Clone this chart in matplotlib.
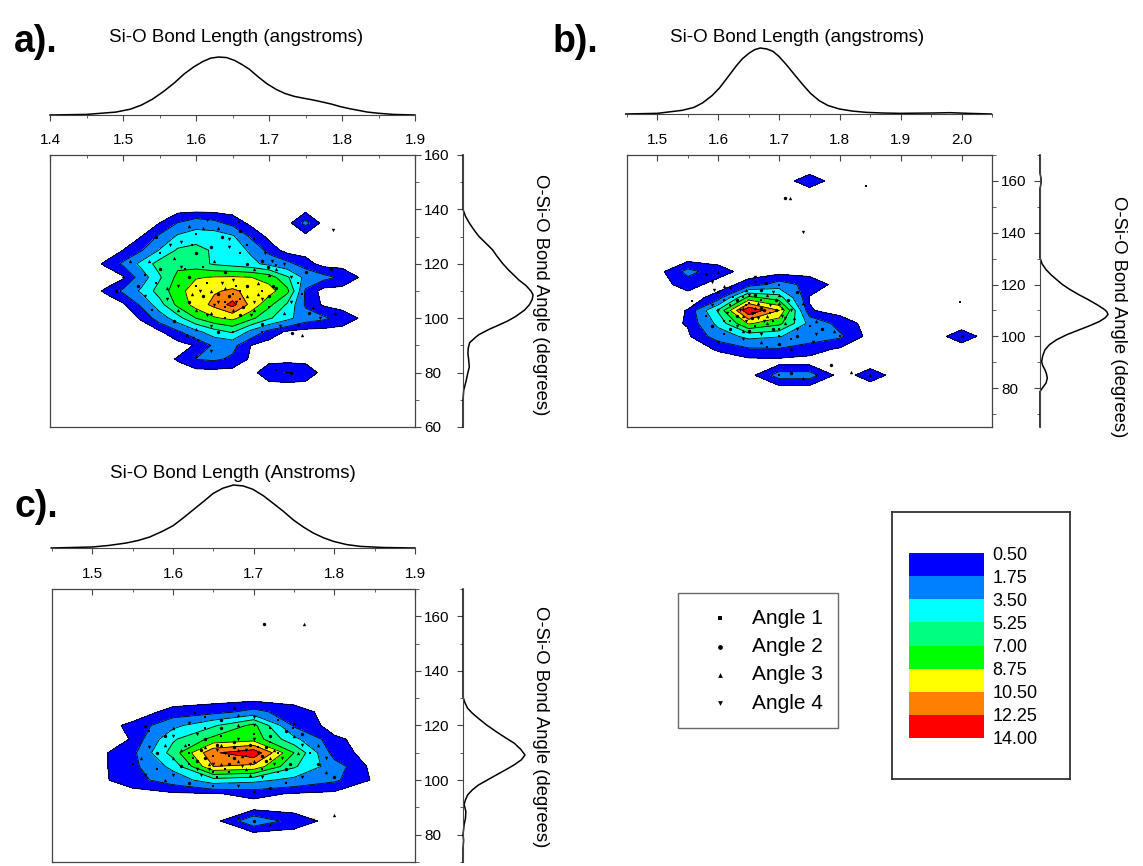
import numpy as np
import matplotlib
matplotlib.use("Agg")
import matplotlib.pyplot as plt
from matplotlib.ticker import MultipleLocator, FormatStrFormatter

plt.rcParams["font.family"] = ["Liberation Sans", "DejaVu Sans"]

W, H = 1143, 866

# ---- shared legend / colour scale ----
levels = [0.5, 1.75, 3.5, 5.25, 7.0, 8.75, 10.5, 12.25, 14.0]
level_colors = ["#0000ff", "#0080ff", "#00ffff", "#00ff80",
                "#00ff00", "#ffff00", "#ff8000", "#ff0000"]
angle_labels = ["Angle 1", "Angle 2", "Angle 3", "Angle 4"]
angle_markers = ["s", "o", "^", "v"]
angle_sizes = [3.5, 6, 6, 6]
y_label = "O-Si-O Bond Angle (degrees)"

# ---- panel a ----
a_title = "Si-O Bond Length (angstroms)"
a_grid_x = [1.45, 1.475, 1.5, 1.525, 1.55, 1.575, 1.6, 1.625, 1.65,
            1.675, 1.7, 1.725, 1.75, 1.775, 1.8, 1.825, 1.85]
a_grid_y = [145, 140, 135, 130, 125, 120, 115, 110, 105, 100, 95, 90, 85, 80, 75]
a_counts = [
    [0, 0, 0, 0, 0, 0, 0, 0, 0, 0, 0, 0, 0, 0, 0, 0, 0],
    [0, 0, 0, 0, 0, 0, 0, 0, 0, 0, 0, 0, 0, 0, 0, 0, 0],
    [0, 0, 0, 0, 0.5, 1.8, 2.6, 2.2, 1.2, 0.2, 0, 0, 2.2, 0, 0, 0, 0],
    [0, 0, 0, 0.5, 2.0, 3.8, 4.5, 4.5, 3.8, 1.5, 0.2, 0, 0, 0, 0, 0, 0],
    [0, 0, 0.5, 1.6, 3.6, 5.5, 5.8, 5.0, 4.5, 3.2, 1.2, 0, 0, 0, 0, 0, 0],
    [0, 0.6, 2.0, 4.0, 6.0, 6.5, 6.0, 5.0, 4.5, 4.0, 3.0, 2.2, 1.0, 0, 0, 0, 0],
    [0, 0, 0.3, 2.5, 5.0, 7.5, 8.6, 8.9, 9.0, 8.8, 8.0, 5.5, 3.0, 2.2, 1.5, 0.4, 0],
    [0, 0.6, 2.0, 3.8, 6.0, 8.0, 9.8, 10.3, 10.8, 10.0, 9.5, 7.5, 1.5, 0, 0, 0, 0],
    [0, 0, 0.3, 2.0, 4.5, 7.5, 9.5, 11.0, 12.8, 10.0, 7.5, 5.0, 1.5, 0.3, 0, 0, 0],
    [0, 0, 0, 0.6, 2.5, 4.5, 7.0, 8.5, 9.2, 7.5, 5.5, 4.0, 2.5, 2.0, 1.2, 0.4, 0],
    [0, 0, 0, 0, 0.3, 1.5, 3.0, 4.5, 5.5, 3.0, 1.2, 0.3, 0, 0, 0, 0, 0],
    [0, 0, 0, 0, 0, 0, 0.6, 2.0, 2.2, 0.5, 0, 0, 0, 0, 0, 0, 0],
    [0, 0, 0, 0, 0, 0.6, 1.8, 2.0, 1.5, 0.3, 0, 0, 0, 0, 0, 0, 0],
    [0, 0, 0, 0, 0, 0, 0, 0, 0, 0, 1.4, 1.8, 1.4, 0, 0, 0, 0],
    [0, 0, 0, 0, 0, 0, 0, 0, 0, 0, 0, 0, 0, 0, 0, 0, 0],
]
a_points = [
    (1.60, 112), (1.61, 108), (1.62, 110), (1.63, 106), (1.64, 104), (1.645, 108),
    (1.65, 103), (1.655, 106), (1.66, 110), (1.665, 104), (1.67, 108), (1.68, 106),
    (1.69, 110), (1.70, 108), (1.62, 102), (1.635, 113), (1.655, 112), (1.59, 106),
    (1.60, 103), (1.675, 101), (1.64, 100), (1.71, 111), (1.685, 113), (1.625, 105),
    (1.65, 109), (1.55, 118), (1.57, 122), (1.58, 128), (1.60, 131), (1.62, 126),
    (1.63, 133), (1.645, 129), (1.66, 124), (1.67, 120), (1.68, 118), (1.695, 124),
    (1.61, 119), (1.59, 115), (1.56, 111), (1.53, 108), (1.54, 103), (1.57, 99),
    (1.60, 96), (1.62, 97), (1.65, 95), (1.69, 98), (1.72, 102), (1.73, 106),
    (1.74, 113), (1.75, 117), (1.76, 104), (1.58, 119), (1.55, 124), (1.64, 117),
    (1.70, 116), (1.72, 120), (1.53, 116), (1.66, 132), (1.59, 134), (1.615, 136),
    (1.68, 129), (1.785, 118), (1.79, 102), (1.77, 100), (1.659, 135.4), (1.545, 129.7),
    (1.50, 115.4), (1.704, 120.9), (1.71, 119.7), (1.699, 119.0), (1.587, 93.8),
    (1.596, 92.6), (1.603, 92.0), (1.731, 94.4), (1.745, 93.8), (1.788, 132.4),
    (1.71, 81), (1.73, 80), (1.60, 86), (1.62, 88), (1.64, 85), (1.49, 110), (1.51, 121),
    (1.605, 110), (1.615, 113), (1.63, 109), (1.64, 111), (1.65, 114), (1.66, 107),
    (1.67, 112), (1.68, 103), (1.69, 107), (1.70, 104), (1.705, 112), (1.595, 109),
    (1.615, 101), (1.64, 106), (1.66, 101), (1.685, 109), (1.575, 112), (1.585, 118),
    (1.60, 124), (1.625, 121), (1.645, 126), (1.67, 127), (1.69, 121), (1.71, 118),
    (1.73, 115), (1.745, 109), (1.755, 102), (1.74, 98), (1.715, 97), (1.69, 95),
    (1.63, 95), (1.575, 103), (1.56, 107), (1.545, 113), (1.52, 112), (1.535, 121),
    (1.565, 127), (1.595, 127), (1.635, 130), (1.61, 133),
]
a_len_x = [1.40, 1.45, 1.49, 1.51, 1.525, 1.54, 1.555, 1.57, 1.584, 1.597, 1.609,
           1.62, 1.631, 1.642, 1.653, 1.663, 1.673, 1.685, 1.697, 1.71, 1.722,
           1.735, 1.747, 1.76, 1.771, 1.785, 1.796, 1.81, 1.82, 1.835, 1.85, 1.87, 1.90]
a_len_d = [0.0, 0.01, 0.05, 0.10, 0.17, 0.27, 0.40, 0.55, 0.71, 0.83, 0.92,
           0.98, 1.0, 0.99, 0.94, 0.87, 0.79, 0.66, 0.54, 0.44, 0.37,
           0.32, 0.29, 0.26, 0.23, 0.19, 0.15, 0.11, 0.086, 0.05, 0.03, 0.01, 0.0]
a_ang_y = [60, 70, 73.5, 77, 80, 82, 85, 87, 89, 91, 93, 94, 96, 97, 99, 100.6,
           103, 105, 107, 108.6, 110, 112, 114, 115.5, 118, 120.3, 123, 125.2,
           128, 130, 132, 135, 137.5, 140, 160]
a_ang_d = [0, 0, 0.01, 0.045, 0.07, 0.09, 0.08, 0.07, 0.075, 0.095, 0.18, 0.23,
           0.38, 0.47, 0.64, 0.75, 0.88, 0.95, 0.99, 1.0, 0.97, 0.9, 0.8, 0.74,
           0.64, 0.56, 0.48, 0.42, 0.31, 0.23, 0.17, 0.09, 0.035, 0, 0]

# ---- panel b ----
b_title = "Si-O Bond Length (angstroms)"
b_grid_x = [1.45, 1.5, 1.55, 1.6, 1.65, 1.7, 1.75, 1.8, 1.85, 1.9, 1.95, 2.0, 2.05]
b_grid_y = [165, 160, 155, 150, 145, 140, 135, 130, 125, 120, 115, 110,
            105, 100, 95, 90, 85, 80, 75]
b_counts = [
    [0, 0, 0, 0, 0, 0, 0, 0, 0, 0, 0, 0, 0],
    [0, 0, 0, 0, 0, 0, 1.0, 0, 0, 0, 0, 0, 0],
    [0, 0, 0, 0, 0, 0, 0, 0, 0, 0, 0, 0, 0],
    [0, 0, 0, 0, 0, 0, 0, 0, 0, 0, 0, 0, 0],
    [0, 0, 0, 0, 0, 0, 0, 0, 0, 0, 0, 0, 0],
    [0, 0, 0, 0, 0, 0, 0, 0, 0, 0, 0, 0, 0],
    [0, 0, 0, 0, 0, 0, 0, 0, 0, 0, 0, 0, 0],
    [0, 0, 0, 0, 0, 0, 0, 0, 0, 0, 0, 0, 0],
    [0, 0, 2.2, 1.0, 0, 0, 0, 0, 0, 0, 0, 0, 0],
    [0, 0, 1.0, 0, 0.9, 2.4, 1.3, 0, 0, 0, 0, 0, 0],
    [0, 0, 0, 0.9, 7.5, 6.0, 0.4, 0, 0, 0, 0, 0, 0],
    [0, 0, 0.55, 5.5, 13.8, 10.5, 0.6, 0, 0, 0, 0, 0, 0],
    [0, 0, 0.6, 4.0, 9.0, 7.5, 3.0, 1.2, 0, 0, 0, 0, 0],
    [0, 0, 0.3, 2.5, 4.0, 3.6, 2.6, 2.0, 0, 0, 0, 1.0, 0],
    [0, 0, 0, 0.6, 1.5, 1.6, 1.0, 0.3, 0, 0, 0, 0, 0],
    [0, 0, 0, 0, 0, 0, 0, 0, 0, 0, 0, 0, 0],
    [0, 0, 0, 0, 0, 2.4, 2.4, 0, 1.0, 0, 0, 0, 0],
    [0, 0, 0, 0, 0, 0, 0, 0, 0, 0, 0, 0, 0],
    [0, 0, 0, 0, 0, 0, 0, 0, 0, 0, 0, 0, 0],
]
b_points = [
    (1.62, 112), (1.63, 108), (1.64, 111), (1.645, 106), (1.65, 113), (1.655, 109),
    (1.66, 111), (1.665, 107), (1.67, 114), (1.675, 110), (1.68, 108), (1.685, 112),
    (1.69, 106), (1.695, 110), (1.70, 113), (1.705, 108), (1.64, 115), (1.66, 116),
    (1.68, 116), (1.63, 104), (1.66, 104), (1.69, 103), (1.71, 105), (1.615, 109),
    (1.625, 115), (1.65, 102), (1.70, 116), (1.72, 110), (1.61, 106), (1.67, 118),
    (1.645, 118), (1.59, 112), (1.58, 108), (1.60, 117), (1.62, 119), (1.66, 121),
    (1.70, 120), (1.73, 117), (1.74, 113), (1.73, 103), (1.75, 104), (1.77, 103),
    (1.79, 102), (1.76, 101), (1.72, 99), (1.70, 97), (1.67, 98), (1.64, 99),
    (1.61, 101), (1.59, 104), (1.72, 95), (1.755, 98), (1.843, 158.1), (1.71, 153.3),
    (1.718, 153.3), (1.739, 140.4), (1.998, 113.2), (1.786, 89.0), (1.819, 86.1),
    (1.66, 123), (1.678, 123), (1.678, 120.6), (1.609, 119.6), (1.593, 117.7),
    (1.557, 113.5), (1.58, 124), (1.60, 125), (1.59, 121), (1.70, 85), (1.72, 86),
    (1.74, 84), (1.76, 85), (1.80, 100), (2.0, 100), (1.85, 85),
    (1.635, 110), (1.645, 112), (1.655, 107), (1.665, 113), (1.675, 106), (1.685, 109),
    (1.695, 114), (1.705, 111), (1.71, 107), (1.62, 106), (1.63, 114), (1.64, 108),
    (1.65, 116), (1.66, 109), (1.67, 111), (1.68, 105), (1.69, 117), (1.70, 103),
    (1.715, 114), (1.725, 107), (1.60, 110), (1.61, 114), (1.62, 103), (1.64, 102),
    (1.67, 101), (1.70, 100), (1.73, 100), (1.76, 106), (1.60, 98), (1.68, 96),
]
b_len_x = [1.448, 1.5, 1.541, 1.56, 1.574, 1.59, 1.602, 1.615, 1.629, 1.64, 1.651,
           1.66, 1.669, 1.68, 1.69, 1.70, 1.712, 1.725, 1.739, 1.752, 1.766, 1.78,
           1.799, 1.82, 1.843, 1.87, 1.898, 1.953, 1.981, 2.01, 2.049]
b_len_d = [0, 0.01, 0.056, 0.10, 0.167, 0.28, 0.394, 0.55, 0.722, 0.84, 0.924,
           0.975, 1.0, 0.985, 0.949, 0.87, 0.747, 0.6, 0.444, 0.31, 0.202, 0.13,
           0.076, 0.045, 0.025, 0.015, 0.01, 0.015, 0.02, 0.01, 0]
b_ang_y = [65, 78.7, 80.6, 82, 83.9, 85.5, 87.1, 88.7, 90.3, 92.5, 94.8, 96.8,
           98.7, 100.7, 102.6, 104.3, 105.8, 107.2, 108.4, 109.4, 110.3, 112.2,
           114.2, 116.1, 118.1, 120, 121.9, 123.8, 125.8, 128, 130.3, 157, 159,
           161, 163, 170]
b_ang_d = [0, 0, 0.05, 0.09, 0.107, 0.095, 0.073, 0.04, 0.024, 0.04, 0.073, 0.14,
           0.244, 0.40, 0.585, 0.75, 0.878, 0.96, 1.0, 0.985, 0.951, 0.84, 0.707,
           0.57, 0.439, 0.33, 0.244, 0.16, 0.088, 0.03, 0, 0, 0.015, 0.015, 0, 0]

# ---- panel c ----
c_title = "Si-O Bond Length (Anstroms)"
c_grid_x = [1.45, 1.5, 1.55, 1.6, 1.65, 1.7, 1.75, 1.8, 1.85, 1.9]
c_grid_y = [135, 130, 125, 120, 115, 110, 105, 100, 95, 90, 85, 80, 75]
c_counts = [
    [0, 0, 0, 0, 0, 0, 0, 0, 0, 0],
    [0, 0, 0, 0, 0, 0, 0, 0, 0, 0],
    [0, 0, 0, 0.8, 1.2, 2.2, 1.0, 0, 0, 0],
    [0, 0, 0.7, 3.0, 5.0, 7.5, 1.5, 0, 0, 0],
    [0, 0, 0.55, 5.0, 7.5, 8.0, 4.0, 0.7, 0, 0],
    [0, 0, 1.3, 6.0, 12.0, 13.5, 7.0, 1.0, 0, 0],
    [0, 0, 1.3, 4.0, 10.5, 10.0, 5.5, 2.5, 0, 0],
    [0, 0, 1.2, 2.5, 4.5, 4.0, 3.0, 2.0, 0.3, 0],
    [0, 0, 0, 0.3, 0.4, 0.8, 0.4, 0.2, 0, 0],
    [0, 0, 0, 0, 0, 0, 0, 0, 0, 0],
    [0, 0, 0, 0, 0, 2.8, 1.2, 0, 0, 0],
    [0, 0, 0, 0, 0, 0, 0, 0, 0, 0],
    [0, 0, 0, 0, 0, 0, 0, 0, 0, 0],
]
c_points = [
    (1.62, 110), (1.63, 107), (1.64, 112), (1.645, 104), (1.65, 109), (1.655, 113),
    (1.66, 106), (1.665, 110), (1.67, 103), (1.675, 108), (1.68, 111), (1.685, 105),
    (1.69, 109), (1.695, 113), (1.70, 107), (1.705, 110), (1.71, 104), (1.715, 112),
    (1.72, 108), (1.725, 106), (1.73, 110), (1.61, 105), (1.615, 113), (1.635, 102),
    (1.655, 101), (1.675, 114), (1.695, 102), (1.70, 115), (1.66, 116), (1.64, 108),
    (1.68, 107), (1.69, 111), (1.67, 109), (1.71, 109), (1.60, 108), (1.65, 106),
    (1.72, 114), (1.74, 104), (1.56, 108), (1.57, 112), (1.58, 104), (1.59, 116),
    (1.60, 119), (1.62, 121), (1.64, 123), (1.66, 122), (1.68, 124), (1.70, 120),
    (1.72, 119), (1.74, 118), (1.75, 116), (1.76, 113), (1.77, 110), (1.78, 106),
    (1.79, 103), (1.76, 101), (1.74, 99), (1.72, 97), (1.70, 96), (1.68, 98),
    (1.65, 98), (1.62, 99), (1.59, 100), (1.565, 102), (1.55, 106), (1.80, 101),
    (1.75, 121), (1.63, 117), (1.57, 118), (1.713, 157), (1.763, 157), (1.565, 119.6),
    (1.627, 124.4), (1.676, 126.5), (1.80, 87.3), (1.773, 85.5), (1.749, 119),
    (1.70, 85), (1.72, 84), (1.68, 86),
    (1.625, 108), (1.635, 111), (1.645, 106), (1.655, 111), (1.665, 104), (1.675, 112),
    (1.685, 109), (1.695, 106), (1.705, 112), (1.715, 107), (1.725, 111), (1.735, 108),
    (1.62, 113), (1.64, 115), (1.66, 113), (1.68, 115), (1.70, 117), (1.72, 116),
    (1.61, 111), (1.63, 104), (1.65, 103), (1.67, 106), (1.69, 104), (1.71, 101),
    (1.73, 103), (1.745, 106), (1.755, 110), (1.60, 102), (1.62, 106), (1.58, 110),
    (1.59, 113), (1.60, 116), (1.64, 119), (1.66, 119), (1.68, 120), (1.70, 123),
    (1.73, 122), (1.76, 117), (1.78, 113), (1.79, 108),
]
c_len_x = [1.449, 1.5, 1.52, 1.542, 1.557, 1.571, 1.586, 1.60, 1.612, 1.625, 1.638,
           1.65, 1.662, 1.675, 1.687, 1.699, 1.712, 1.724, 1.737, 1.749, 1.762,
           1.774, 1.787, 1.799, 1.815, 1.832, 1.86, 1.9]
c_len_d = [0, 0.016, 0.04, 0.079, 0.12, 0.174, 0.26, 0.353, 0.47, 0.605, 0.74,
           0.868, 0.95, 1.0, 0.985, 0.932, 0.83, 0.711, 0.58, 0.447, 0.33,
           0.237, 0.16, 0.105, 0.055, 0.026, 0.008, 0]
c_ang_y = [70, 75.1, 78, 80, 82, 83.6, 86, 88.5, 90, 91, 92.8, 94.6, 96.4, 98.2,
           100, 101.9, 103.8, 105.6, 107.4, 109.2, 111.3, 113.5, 115.6, 117.7,
           120.2, 122.6, 124.5, 126.3, 128.4, 130.5, 170]
c_ang_d = [0, 0, 0.01, 0.0, 0.01, 0.017, 0.04, 0.046, 0.03, 0.017, 0.04, 0.075,
           0.15, 0.249, 0.39, 0.538, 0.69, 0.827, 0.94, 1.0, 0.93, 0.827, 0.68,
           0.538, 0.38, 0.249, 0.15, 0.075, 0.03, 0, 0]

AX_COLOR = "#444444"


def box(l, t, r, b):
    # pixel box (left, top, right, bottom) -> figure fraction rect
    return [l / W, 1 - b / H, (r - l) / W, (b - t) / H]


def draw_panel(fig, tag, tag_xy, title, title_xy, ylab_xy, main_px, top_px, right_px,
               xlim, ylim, xticks, yticks, gx, gy, counts, points,
               len_x, len_d, ang_y, ang_d):
    ax = fig.add_axes(box(*main_px))
    X, Y = np.meshgrid(gx, gy)
    Z = np.array(counts, dtype=float)
    cf = ax.contourf(X, Y, Z, levels=levels, colors=level_colors)
    ax.contour(X, Y, Z, levels=levels, colors="k", linewidths=0.6)
    pts = np.array(points)
    handles = []
    for i in range(4):
        h = ax.scatter(pts[i::4, 0], pts[i::4, 1], s=angle_sizes[i],
                       marker=angle_markers[i], c="k", linewidths=0, zorder=3,
                       label=angle_labels[i])
        handles.append(h)
    ax.set_xlim(xlim)
    ax.set_ylim(ylim)
    ax.set_xticks(xticks)
    ax.xaxis.set_minor_locator(MultipleLocator(0.05))
    ax.xaxis.set_major_formatter(FormatStrFormatter("%.1f"))
    ax.set_yticks(yticks)
    ax.yaxis.set_minor_locator(MultipleLocator(10))
    ax.tick_params(axis="x", which="both", direction="in", top=True, bottom=False,
                   labeltop=True, labelbottom=False, color=AX_COLOR, labelsize=11, pad=6)
    ax.tick_params(axis="x", which="major", length=4)
    ax.tick_params(axis="x", which="minor", length=2.5)
    ax.tick_params(axis="y", which="both", direction="out", right=True, left=False,
                   labelright=True, labelleft=False, color=AX_COLOR, labelsize=11, pad=2)
    ax.tick_params(axis="y", which="major", length=4.5)
    ax.tick_params(axis="y", which="minor", length=3)
    for s in ax.spines.values():
        s.set_color(AX_COLOR)
        s.set_linewidth(0.9)

    # marginal distribution of bond length (top)
    axt = fig.add_axes(box(*top_px))
    axt.plot(len_x, len_d, color="k", lw=1.1, clip_on=False)
    axt.set_xlim(xlim)
    axt.set_ylim(0, 1)
    axt.set_xticks(xticks)
    axt.xaxis.set_minor_locator(MultipleLocator(0.05))
    axt.set_yticks([])
    axt.tick_params(axis="x", which="both", direction="out", labelbottom=False, color=AX_COLOR)
    axt.tick_params(axis="x", which="major", length=4)
    axt.tick_params(axis="x", which="minor", length=2.5)
    for k in ("top", "left", "right"):
        axt.spines[k].set_visible(False)
    axt.spines["bottom"].set_color(AX_COLOR)
    axt.patch.set_alpha(0)

    # marginal distribution of bond angle (right)
    axr = fig.add_axes(box(*right_px))
    axr.plot(ang_d, ang_y, color="k", lw=1.1, clip_on=False)
    axr.set_xlim(0, 1)
    axr.set_ylim(ylim)
    axr.set_yticks(yticks)
    axr.yaxis.set_minor_locator(MultipleLocator(10))
    axr.set_xticks([])
    axr.tick_params(axis="y", which="both", direction="out", labelleft=False, color=AX_COLOR)
    axr.tick_params(axis="y", which="major", length=4)
    axr.tick_params(axis="y", which="minor", length=2.5)
    for k in ("top", "bottom", "right"):
        axr.spines[k].set_visible(False)
    axr.spines["left"].set_color(AX_COLOR)
    axr.patch.set_alpha(0)

    fig.text(tag_xy[0] / W, 1 - tag_xy[1] / H, tag, fontsize=27, fontweight="bold",
             ha="left", va="center")
    fig.text(title_xy[0] / W, 1 - title_xy[1] / H, title, fontsize=13.5,
             ha="center", va="center")
    fig.text(ylab_xy[0] / W, 1 - ylab_xy[1] / H, y_label, fontsize=13.3,
             rotation=-90, ha="center", va="center")
    return cf, handles


fig = plt.figure(figsize=(W / 100, H / 100), dpi=100)

draw_panel(fig, "a).", (14, 42), a_title, (236, 37), (541, 295),
           (50, 155, 415, 427), (50, 57, 415, 115), (463, 155, 533, 427),
           (1.4, 1.9), (60, 160), [1.4, 1.5, 1.6, 1.7, 1.8, 1.9],
           [60, 80, 100, 120, 140, 160],
           a_grid_x, a_grid_y, a_counts, a_points, a_len_x, a_len_d, a_ang_y, a_ang_d)

draw_panel(fig, "b).", (553, 42), b_title, (797, 37), (1118, 317),
           (627, 155, 992, 427), (627, 48, 992, 114), (1040, 155, 1108, 427),
           (1.45, 2.05), (65, 170), [1.5, 1.6, 1.7, 1.8, 1.9, 2.0],
           [80, 100, 120, 140, 160],
           b_grid_x, b_grid_y, b_counts, b_points, b_len_x, b_len_d, b_ang_y, b_ang_d)

cf_c, handles_c = draw_panel(
    fig, "c).", (15, 507), c_title, (233, 473), (541, 727),
    (52, 589, 415, 862), (52, 485, 415, 548), (463, 589, 525, 862),
    (1.45, 1.9), (70, 170), [1.5, 1.6, 1.7, 1.8, 1.9],
    [80, 100, 120, 140, 160],
    c_grid_x, c_grid_y, c_counts, c_points, c_len_x, c_len_d, c_ang_y, c_ang_d)

# legend box
leg = fig.legend(handles_c, angle_labels, loc="upper left",
                 bbox_to_anchor=(678 / W, 1 - 593 / H), borderaxespad=0,
                 frameon=True, fancybox=False, edgecolor=AX_COLOR, fontsize=15,
                 handlelength=2.5, handletextpad=0.3, borderpad=0.75,
                 labelspacing=0.45, scatterpoints=1, markerscale=1.4)
leg.get_frame().set_linewidth(1.0)

# colour scale box
frame_ax = fig.add_axes(box(892, 512, 1070, 779))
frame_ax.set_xticks([])
frame_ax.set_yticks([])
for s in frame_ax.spines.values():
    s.set_color("#333333")
    s.set_linewidth(1.3)
frame_ax.patch.set_alpha(0)

cax = fig.add_axes(box(909, 553, 984, 738))
cb = fig.colorbar(cf_c, cax=cax, ticks=levels)
cb.outline.set_visible(False)
cax.invert_yaxis()
cb.set_ticklabels([f"{v:.2f}" for v in levels])
cax.tick_params(length=0, labelsize=13, pad=6)

fig.savefig("out.png", dpi=100)
